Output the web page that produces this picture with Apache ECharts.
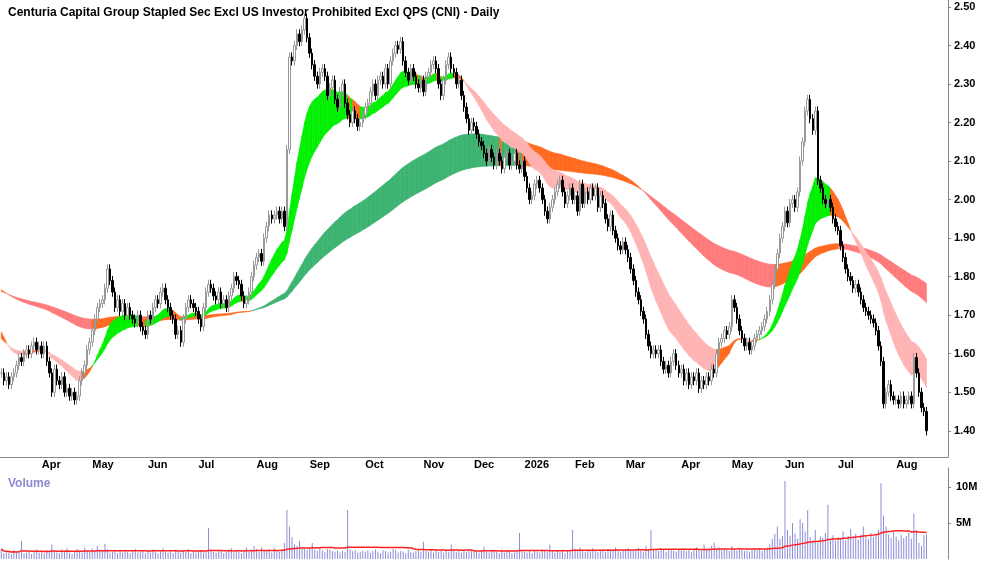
<!DOCTYPE html>
<html><head><meta charset="utf-8">
<script src="https://cdn.jsdelivr.net/npm/echarts@6/dist/echarts.min.js"></script>
<style>html,body{margin:0;padding:0;background:#fff}#c{width:1000px;height:562px}</style>
</head><body><div id="c"></div>
<script>
const title = "Centuria Capital Group Stapled Sec Excl US Investor Prohibited Excl QPS (CNI) - Daily";
const months = [["Mar",16],["Apr",20],["May",22],["Jun",20],["Jul",23],["Aug",21],["Sep",22],["Oct",23],["Nov",20],["Dec",20],["2026",20],["Feb",20],["Mar",22],["Apr",20],["May",21],["Jun",21],["Jul",23],["Aug",13]];
const priceTicks = [1.4,1.5,1.6,1.7,1.8,1.9,2.0,2.1,2.2,2.3,2.4,2.5];
const volumeTicks = [5,10];
const closes = [
1.55,1.53,1.54,1.52,1.54,1.55,1.57,1.59,1.58,1.60,1.61,1.60,1.62,1.63,1.61,1.62,
1.60,1.62,1.58,1.55,1.50,1.56,1.53,1.52,1.54,1.50,1.51,1.49,1.50,1.48,1.49,1.53,1.55,1.57,1.61,1.63,
1.66,1.69,1.72,1.73,1.74,1.77,1.82,1.79,1.76,1.72,1.74,1.71,1.73,1.70,1.72,1.70,1.69,1.68,1.70,1.67,1.66,1.65,
1.70,1.69,1.72,1.74,1.73,1.76,1.77,1.74,1.72,1.70,1.69,1.65,1.66,1.63,1.69,1.72,1.74,1.73,1.72,1.71,
1.69,1.67,1.72,1.76,1.78,1.77,1.75,1.74,1.76,1.73,1.74,1.72,1.75,1.77,1.80,1.79,1.78,1.75,1.73,1.74,1.76,1.80,1.83,
1.85,1.86,1.84,1.90,1.93,1.96,1.95,1.96,1.97,1.95,1.97,1.93,2.13,2.37,2.36,2.40,2.43,2.41,2.44,2.47,2.42,
2.38,2.35,2.32,2.30,2.33,2.34,2.32,2.27,2.29,2.31,2.26,2.24,2.28,2.30,2.25,2.22,2.20,2.23,2.21,2.19,2.20,2.22,
2.24,2.25,2.28,2.30,2.27,2.31,2.32,2.30,2.34,2.30,2.36,2.38,2.40,2.39,2.41,2.36,2.33,2.31,2.34,2.32,2.30,2.29,2.31,
2.28,2.32,2.33,2.35,2.36,2.34,2.30,2.27,2.31,2.35,2.37,2.34,2.33,2.30,2.31,2.27,2.24,2.21,2.18,2.20,
2.19,2.17,2.15,2.14,2.12,2.10,2.13,2.11,2.09,2.12,2.10,2.08,2.11,2.12,2.09,2.10,2.12,2.09,2.08,2.10,
2.06,2.03,2.00,2.01,2.04,2.05,2.03,2.00,1.97,1.95,1.98,2.00,2.02,2.04,2.05,2.02,1.99,2.01,2.03,2.00,
2.01,1.97,2.04,1.99,2.02,2.00,2.03,2.01,2.03,1.98,2.01,1.99,1.95,1.93,1.96,1.92,1.90,1.88,1.87,1.89,
1.87,1.85,1.82,1.79,1.76,1.74,1.71,1.69,1.65,1.62,1.60,1.61,1.60,1.61,1.58,1.56,1.57,1.55,1.58,1.60,1.57,1.55,
1.56,1.53,1.55,1.52,1.54,1.53,1.55,1.51,1.53,1.52,1.54,1.53,1.56,1.55,1.60,1.63,1.64,1.66,1.65,1.67,
1.74,1.72,1.69,1.66,1.64,1.62,1.63,1.61,1.62,1.64,1.65,1.66,1.67,1.69,1.71,1.74,1.78,1.82,1.86,1.90,1.93,
1.97,1.94,1.99,2.00,1.98,2.02,2.10,2.15,2.23,2.26,2.21,2.18,2.23,2.05,2.03,2.00,1.99,2.00,1.98,1.95,1.93,
1.92,1.88,1.85,1.82,1.80,1.79,1.77,1.78,1.76,1.74,1.72,1.71,1.70,1.69,1.68,1.66,1.62,1.58,1.47,1.50,1.52,1.49,1.48,
1.48,1.47,1.49,1.47,1.48,1.49,1.47,1.59,1.55,1.50,1.46,1.45,1.40];
const volumes = [
1.4,0.8,1.0,0.9,0.7,1.2,0.9,1.0,2.5,0.8,0.9,1.1,0.7,1.0,1.3,0.9,
1.0,0.8,1.2,0.9,2.0,1.1,0.9,0.8,1.3,1.0,1.5,0.9,0.7,1.0,1.4,1.2,0.9,1.6,1.1,1.0,
1.5,1.2,1.8,1.3,1.1,2.1,1.4,0.9,1.0,1.2,0.8,1.1,0.9,1.3,1.0,0.8,1.1,1.4,0.9,1.0,1.2,0.8,
1.1,0.9,1.3,1.0,0.8,1.2,1.5,1.0,0.9,1.1,0.8,1.3,1.0,0.9,1.2,1.0,1.4,0.8,1.1,0.9,
1.0,1.2,0.9,1.1,4.3,1.3,1.0,0.9,1.2,1.1,0.8,1.0,1.3,1.5,0.9,1.1,1.0,0.8,1.2,1.6,1.0,1.3,1.8,
1.4,1.0,1.6,1.2,1.1,1.3,0.9,1.5,1.2,1.0,1.4,2.2,6.8,4.5,3.0,2.0,1.8,2.5,1.6,1.4,1.2,
1.5,2.2,1.3,1.1,1.6,1.2,1.0,1.4,1.3,1.1,1.0,1.2,0.9,1.1,1.0,6.8,1.3,1.1,1.2,0.9,1.0,1.1,
1.0,1.2,0.9,1.1,1.3,1.0,0.8,1.2,1.1,0.9,1.0,1.4,1.2,0.9,1.1,1.0,0.8,1.3,1.0,0.9,1.1,1.2,1.0,
2.4,1.1,1.0,1.3,0.9,1.2,1.0,1.1,0.9,1.2,1.0,2.0,1.3,1.0,1.1,0.9,1.2,1.0,1.4,1.1,
1.2,1.0,0.9,1.1,1.7,1.0,0.9,1.2,1.1,1.0,0.8,1.3,0.9,1.0,1.1,0.8,0.9,1.0,3.6,1.2,
1.0,0.9,1.1,0.8,1.2,1.0,0.9,1.3,1.1,1.0,2.0,1.2,0.9,1.1,1.0,1.3,0.8,1.1,1.0,4.0,
1.4,1.1,1.6,1.2,1.0,1.3,1.2,1.5,1.1,1.0,1.2,1.4,1.0,1.3,1.1,1.2,1.6,1.3,1.0,1.2,
1.3,1.5,1.2,1.1,1.4,1.6,1.2,1.0,1.8,1.3,4.0,1.4,1.2,1.1,1.5,1.3,1.0,1.2,1.4,1.1,1.0,1.3,
1.2,1.5,1.1,1.4,1.0,1.3,1.6,1.2,1.1,2.0,1.3,1.5,1.8,2.3,1.4,1.6,1.2,1.5,1.3,1.1,
1.8,1.5,1.2,1.4,1.3,1.1,1.2,1.0,1.3,1.5,1.2,1.4,1.1,1.3,1.6,2.0,2.8,3.5,4.5,2.8,3.2,
10.8,4.0,3.2,5.0,3.5,2.8,5.5,5.0,3.8,6.8,3.0,2.6,4.0,2.4,3.1,2.9,3.6,7.5,2.7,3.3,2.5,
3.0,2.8,3.8,2.6,3.2,4.2,2.9,3.5,2.7,3.4,4.5,3.1,2.8,3.6,3.0,3.3,4.0,10.5,6.0,4.5,3.4,2.9,3.8,
3.1,2.6,3.4,2.9,3.2,3.6,2.8,6.3,4.0,2.2,1.8,3.3,3.4];
// starting levels of the averages read at left edge of the picture
const fastSeed = [1.67, 1.645];
const slowSeed = [1.77, 1.765];

const N = closes.length, PAD = 8, TOTAL = N + PAD;
const cats = [], monthStart = {};
let k = 0;
months.forEach(([m, n], mi) => { for (let j = 0; j < n; j++) { if (j === 0 && mi > 0) monthStart[k] = m; cats.push(m + '-' + mi + '-' + j); k++; } });
while (cats.length < TOTAL) cats.push('pad' + cats.length);
const monthIdx = Object.keys(monthStart).map(Number);

const ohlc = closes.map((c, i) => {
  const o = i ? closes[i - 1] : c;
  return [o, c, Math.min(o, c) - 0.012, Math.max(o, c) + 0.012];
});
function ema(p, seed) { const a = 2 / (p + 1); let v = seed; return closes.map(c => (v = v + a * (c - v))); }
const f1 = ema(17, fastSeed[0]), f2 = ema(32, fastSeed[1]);
const s1 = ema(105, slowSeed[0]), s2 = ema(160, slowSeed[1]);
function bandData(a, b, cols) {
  const out = [];
  for (let i = 0; i < N - 1; i++) {
    const slowUp = b[i + 1] >= b[i];
    let col = cols[1];
    if (a[i + 1] > b[i + 1] && slowUp) col = cols[0];
    else if (a[i + 1] < b[i + 1] && !slowUp) col = cols[2];
    out.push({ value: [i, a[i], b[i], a[i + 1], b[i + 1]], itemStyle: { color: col } });
  }
  return out;
}
const fastBand = bandData(f1, f2, ['#00f000', '#ff6a1f', '#ffb3b3']);
const slowBand = bandData(s1, s2, ['#3cb371', '#ff6a1f', '#ff7b7b']);
const volMA = volumes.map((v, i) => { const s = volumes.slice(Math.max(0, i - 49), i + 1); return +(s.reduce((x, y) => x + y, 0) / s.length).toFixed(3); });

function renderBand(params, api) {
  const p1 = api.coord([api.value(0), api.value(1)]), p2 = api.coord([api.value(0) + 1, api.value(3)]);
  const p3 = api.coord([api.value(0) + 1, api.value(4)]), p4 = api.coord([api.value(0), api.value(2)]);
  const col = api.visual('color');
  return { type: 'polygon', shape: { points: [p1, p2, p3, p4] }, style: { fill: col, stroke: col, lineWidth: 0.6 } };
}
const font = 'Liberation Sans, Arial, sans-serif';
const chart = echarts.init(document.getElementById('c'));
chart.setOption({
  animation: false,
  title: [{ text: title, left: 3, top: 2, textStyle: { fontSize: 12, fontWeight: 'bold', color: '#000', fontFamily: font } },
          { text: 'Volume', left: 3, top: 473, textStyle: { fontSize: 12, fontWeight: 'bold', color: '#8a8ad0', fontFamily: font } }],
  grid: [
    { left: 0, right: 52, top: 0, bottom: 105 },
    { left: 0, right: 52, top: 468, bottom: 3 },
    { left: 0, right: 52, top: 457, height: 0 }
  ],
  xAxis: [
    { type: 'category', gridIndex: 0, data: cats, boundaryGap: true, show: false },
    { type: 'category', gridIndex: 1, data: cats, boundaryGap: true, show: false },
    { type: 'category', gridIndex: 2, data: cats, boundaryGap: true, position: 'bottom',
      axisLine: { lineStyle: { color: '#888' } },
      axisTick: { customValues: monthIdx, length: 4, lineStyle: { color: '#888' } },
      axisLabel: { customValues: monthIdx, formatter: (v) => monthStart[cats.indexOf(v)] || '', align: 'left', margin: 2,
        fontSize: 11, fontWeight: 'bold', color: '#000', fontFamily: font } }
  ],
  yAxis: [
    { type: 'value', gridIndex: 0, position: 'right', min: 1.332, max: 2.518, splitLine: { show: false },
      axisLine: { show: true, lineStyle: { color: '#888' } },
      axisTick: { show: true, customValues: priceTicks, length: 3, lineStyle: { color: '#888' } },
      axisLabel: { customValues: priceTicks, formatter: v => v.toFixed(2), fontSize: 11, fontWeight: 'bold', color: '#000', fontFamily: font, margin: 6 } },
    { type: 'value', gridIndex: 1, position: 'right', min: 0, max: 12.6, splitLine: { show: false },
      axisLine: { show: true, lineStyle: { color: '#888' } },
      axisTick: { show: true, customValues: volumeTicks, length: 3, lineStyle: { color: '#888' } },
      axisLabel: { customValues: volumeTicks, formatter: v => v + 'M', fontSize: 11, fontWeight: 'bold', color: '#000', fontFamily: font, margin: 8 } },
    { type: 'value', gridIndex: 2, show: false }
  ],
  series: [
    { type: 'custom', xAxisIndex: 0, yAxisIndex: 0, renderItem: renderBand, data: slowBand, z: 1 },
    { type: 'custom', xAxisIndex: 0, yAxisIndex: 0, renderItem: renderBand, data: fastBand, z: 2 },
    { type: 'candlestick', xAxisIndex: 0, yAxisIndex: 0, data: ohlc, barWidth: 2, z: 5,
      itemStyle: { color: '#ffffff', color0: '#000000', borderColor: '#999999', borderColor0: '#000000', borderWidth: 1 } },
    { type: 'bar', xAxisIndex: 1, yAxisIndex: 1, data: volumes, barWidth: 1, itemStyle: { color: '#8c8cd8' } },
    { type: 'line', xAxisIndex: 1, yAxisIndex: 1, data: volMA, symbol: 'none', lineStyle: { color: '#ff2020', width: 1.5 } }
  ]
});
</script></body></html>
